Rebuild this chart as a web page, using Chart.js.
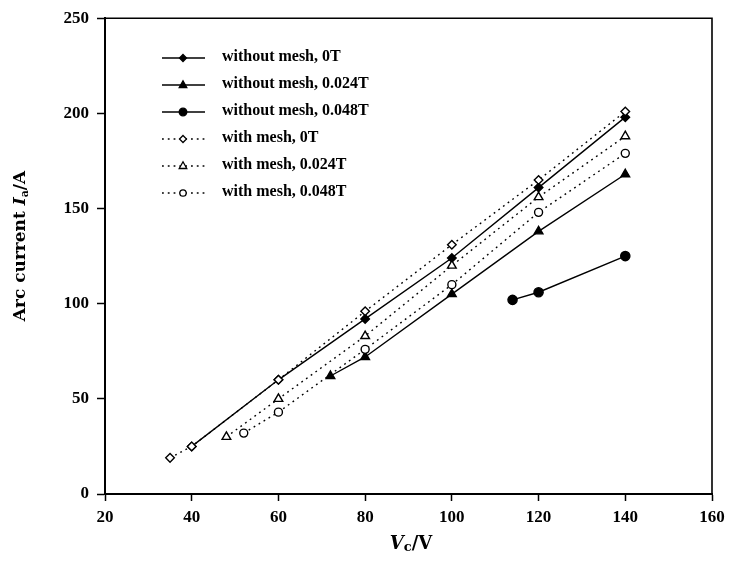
<!DOCTYPE html>
<html>
<head>
<meta charset="utf-8">
<script src="https://cdn.jsdelivr.net/npm/chart.js@4/dist/chart.umd.min.js"></script>
<style>
  html, body { margin: 0; padding: 0; background: #fff; }
  #wrap { width: 732px; height: 563px; }
</style>
</head>
<body>
<div id="wrap"><canvas id="myChart"></canvas></div>
<script>
// values
const labels = [
  'without mesh, 0T',
  'without mesh, 0.024T',
  'without mesh, 0.048T',
  'with mesh, 0T',
  'with mesh, 0.024T',
  'with mesh, 0.048T'
]

const noMesh0Vc = [40, 60, 80, 100, 120, 140]
const noMesh0Ia = [25, 60, 92, 124, 161, 198]
const noMesh024Vc = [72, 80, 100, 120, 140]
const noMesh024Ia = [62, 72, 105, 138, 168]
const noMesh048Vc = [114, 120, 140]
const noMesh048Ia = [102, 106, 125]

const mesh0Vc = [35, 40, 60, 80, 100, 120, 140]
const mesh0Ia = [19, 25, 60, 96, 131, 165, 201]
const mesh024Vc = [48, 60, 80, 100, 120, 140]
const mesh024Ia = [30, 50, 83, 120, 156, 188]
const mesh048Vc = [52, 60, 80, 100, 120, 140]
const mesh048Ia = [32, 43, 76, 110, 148, 179]

const xTicks = [20, 40, 60, 80, 100, 120, 140, 160]
const yTicks = [0, 50, 100, 150, 200, 250]

const serif = '"Liberation Serif", "DejaVu Serif", serif'
const wide = '"DejaVu Serif", "Liberation Serif", serif'

function pts(xs, ys) {
  let out = []
  for (let i = 0; i < xs.length; i++) {
    out.push({x: xs[i], y: ys[i]})
  }
  return out
}

function series(label, xs, ys, style, filled, dotted, radius, order) {
  return {
    label: label,
    data: pts(xs, ys),
    borderColor: '#000',
    borderWidth: 1.4,
    borderDash: dotted ? [1.8, 4] : [],
    pointStyle: style,
    pointRadius: radius,
    pointBorderWidth: 1.4,
    pointBorderColor: '#000',
    pointBackgroundColor: filled ? '#000' : '#fff',
    order: order,
    tension: 0
  }
}

// draw frame, legend and axis titles
const decor = {
  id: 'decor',
  afterDraw(chart) {
    const ctx = chart.ctx
    const a = chart.chartArea
    ctx.save()
    ctx.strokeStyle = '#000'
    ctx.lineWidth = 1.6
    ctx.beginPath()
    ctx.moveTo(a.left, a.top)
    ctx.lineTo(a.right, a.top)
    ctx.lineTo(a.right, a.bottom)
    ctx.stroke()

    // legend
    const sets = chart.data.datasets
    for (let i = 0; i < sets.length; i++) {
      const ds = sets[i]
      const y = 58 + i * 27
      ctx.lineWidth = ds.borderWidth
      ctx.setLineDash(ds.borderDash)
      ctx.beginPath()
      ctx.moveTo(162, y)
      ctx.lineTo(205, y)
      ctx.stroke()
      ctx.setLineDash([])
      marker(ctx, ds.pointStyle, 183, y, ds.pointRadius - 0.8, ds.pointBackgroundColor)
      ctx.fillStyle = '#000'
      ctx.font = 'bold 16px ' + serif
      ctx.textAlign = 'left'
      ctx.textBaseline = 'middle'
      ctx.fillText(ds.label, 222, y - 1)
    }

    // x title: Vc/V
    let parts = [
      {t: 'V', f: 'italic bold 18px ' + wide, dy: 0},
      {t: 'c', f: 'bold 13px ' + wide, dy: 4},
      {t: '/V', f: 'bold 18px ' + wide, dy: 0}
    ]
    drawParts(ctx, parts, 411, 544)

    // y title: Arc current Ia/A
    ctx.translate(21, 246)
    ctx.rotate(-Math.PI / 2)
    parts = [
      {t: 'Arc current ', f: 'bold 17px ' + wide, dy: 0},
      {t: 'I', f: 'italic bold 17px ' + wide, dy: 0},
      {t: 'a', f: 'bold 11px ' + wide, dy: 4},
      {t: '/A', f: 'bold 17px ' + wide, dy: 0}
    ]
    drawParts(ctx, parts, 0, 0)
    ctx.restore()
  }
}

function drawParts(ctx, parts, cx, cy) {
  let w = 0
  for (let p of parts) {
    ctx.font = p.f
    w += ctx.measureText(p.t).width
  }
  let x = cx - w / 2
  ctx.fillStyle = '#000'
  ctx.textAlign = 'left'
  ctx.textBaseline = 'middle'
  for (let p of parts) {
    ctx.font = p.f
    ctx.fillText(p.t, x, cy + p.dy)
    x += ctx.measureText(p.t).width
  }
}

function marker(ctx, style, x, y, r, fill) {
  ctx.beginPath()
  if (style === 'circle') {
    ctx.arc(x, y, r, 0, Math.PI * 2)
  } else if (style === 'triangle') {
    ctx.moveTo(x, y - r)
    ctx.lineTo(x + r * 0.9, y + r * 0.6)
    ctx.lineTo(x - r * 0.9, y + r * 0.6)
    ctx.closePath()
  } else {
    ctx.moveTo(x, y - r)
    ctx.lineTo(x + r, y)
    ctx.lineTo(x, y + r)
    ctx.lineTo(x - r, y)
    ctx.closePath()
  }
  ctx.fillStyle = fill
  ctx.fill()
  ctx.lineWidth = 1.3
  ctx.stroke()
}

const ctx = document.getElementById('myChart').getContext('2d')

const config = {
  type: 'line',
  data: {
    datasets: [
      series(labels[0], noMesh0Vc, noMesh0Ia, 'rectRot', true, false, 4.3, 1),
      series(labels[1], noMesh024Vc, noMesh024Ia, 'triangle', true, false, 5, 1),
      series(labels[2], noMesh048Vc, noMesh048Ia, 'circle', true, false, 4.6, 1),
      series(labels[3], mesh0Vc, mesh0Ia, 'rectRot', false, true, 4.3, 0),
      series(labels[4], mesh024Vc, mesh024Ia, 'triangle', false, true, 5, 0),
      series(labels[5], mesh048Vc, mesh048Ia, 'circle', false, true, 4, 0)
    ]
  },
  options: {
    responsive: true,
    maintainAspectRatio: false,
    animation: false,
    layout: { padding: { left: 0, right: 20, top: 14, bottom: 0 } },
    plugins: {
      legend: { display: false },
      tooltip: { enabled: false }
    },
    scales: {
      x: {
        type: 'linear',
        min: 20,
        max: 160,
        afterBuildTicks: function(scale) {
          scale.ticks = xTicks.map(v => ({value: v}))
        },
        afterFit: function(scale) { scale.height = 69 },
        grid: { drawOnChartArea: false, tickLength: 7, tickWidth: 1.5, tickColor: '#000' },
        border: { color: '#000', width: 2 },
        ticks: { color: '#000', padding: 6, font: { family: serif, size: 17, weight: 'bold' } }
      },
      y: {
        min: 0,
        max: 250,
        afterBuildTicks: function(scale) {
          scale.ticks = yTicks.map(v => ({value: v}))
        },
        afterFit: function(scale) { scale.width = 105 },
        grid: { drawOnChartArea: false, tickLength: 8, tickWidth: 1.5, tickColor: '#000' },
        border: { color: '#000', width: 2 },
        ticks: { color: '#000', padding: 8, font: { family: serif, size: 17, weight: 'bold' } }
      }
    }
  },
  plugins: [decor]
}

const myChart = new Chart(ctx, config)
</script>
</body>
</html>
